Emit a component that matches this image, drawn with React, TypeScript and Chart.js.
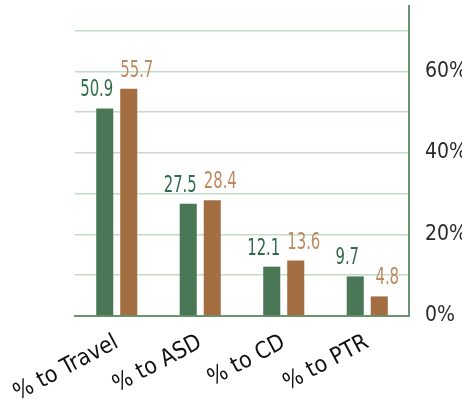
import React, { useEffect, useRef } from "react";
import { Chart, registerables } from "chart.js";

Chart.register(...registerables);

const categories = ["% to Travel", "% to ASD", "% to CD", "% to PTR"];
const seriesA = [50.9, 27.5, 12.1, 9.7];
const seriesB = [55.7, 28.4, 13.6, 4.8];
const tickValues = [0, 20, 40, 60];

const FONT = "'DejaVu Sans Condensed', 'Liberation Sans Narrow', sans-serif";
const GREEN = "#4a7856";
const BROWN = "#a26e42";
const GREEN_TEXT = "#2f6c49";
const BROWN_TEXT = "#bd8a5f";
const GRID = "#c3dcc3";
const AXIS = "#6a9470";

const valueLabels = {
  id: "valueLabels",
  afterDatasetsDraw(chart: any) {
    const ctx = chart.ctx;
    ctx.save();
    ctx.font = `23px ${FONT}`;
    ctx.textAlign = "center";
    ctx.textBaseline = "alphabetic";
    chart.data.datasets.forEach((ds: any, di: number) => {
      const meta = chart.getDatasetMeta(di);
      ctx.fillStyle = di === 0 ? GREEN_TEXT : BROWN_TEXT;
      meta.data.forEach((bar: any, i: number) => {
        const shift = di === 0 ? -8 : 8;
        const sx = 0.72;
        ctx.save();
        ctx.translate(bar.x + shift, bar.y - 12);
        ctx.scale(sx, 1);
        ctx.fillText(String(ds.data[i]), 0, 0);
        ctx.restore();
      });
    });
    ctx.restore();
  },
};

export default function App() {
  const ref = useRef<HTMLCanvasElement | null>(null);
  useEffect(() => {
    if (!ref.current) return;
    const chart = new Chart(ref.current, {
      type: "bar",
      data: {
        labels: categories,
        datasets: [
          {
            data: seriesA,
            backgroundColor: GREEN,
            categoryPercentage: 0.575,
            barPercentage: 0.71,
          },
          {
            data: seriesB,
            backgroundColor: BROWN,
            categoryPercentage: 0.575,
            barPercentage: 0.71,
          },
        ],
      },
      options: {
        animation: false,
        responsive: true,
        maintainAspectRatio: false,
        layout: { padding: { left: 75, right: 10, top: 6, bottom: 0 } },
        plugins: {
          legend: { display: false },
          tooltip: { enabled: false },
        },
        scales: {
          x: {
            grid: { display: false, drawTicks: false },
            border: { display: true, color: AXIS, width: 2 },
            ticks: {
              color: "#111",
              font: { family: FONT, size: 23 },
              minRotation: 28,
              maxRotation: 28,
              padding: 13,
              autoSkip: false,
            },
            afterFit(scale: any) {
              scale.height = 88;
              scale.paddingLeft = 0;
              scale.paddingRight = 0;
            },
          },
          y: {
            position: "right",
            min: 0,
            max: 76,
            grid: {
              drawTicks: false,
              color: (c: any) =>
                c.tick && c.tick.value > 0 && c.tick.value % 10 === 0 ? GRID : "rgba(0,0,0,0)",
              lineWidth: 1.5,
            },
            border: { display: true, color: AXIS, width: 2 },
            ticks: {
              stepSize: 10,
              color: "#2a2a2a",
              padding: 16,
              font: { family: FONT, size: 21 },
              callback: (v: any) => (tickValues.includes(v) ? `${v}%` : ""),
            },
            afterFit(scale: any) {
              scale.width = 53;
              scale.paddingTop = 0;
              scale.paddingBottom = 0;
            },
          },
        },
      },
      plugins: [valueLabels],
    });
    return () => chart.destroy();
  }, []);
  return (
    <div style={{ position: "absolute", left: 0, top: 0, width: 472, height: 404 }}>
      <canvas ref={ref} />
    </div>
  );
}
